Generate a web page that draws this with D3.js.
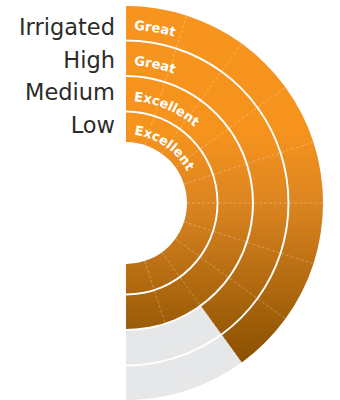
<!DOCTYPE html>
<html>
<head>
<meta charset="utf-8">
<script src="https://cdn.jsdelivr.net/npm/d3@7"></script>
<style>
  body { margin: 0; background: #fff; }
  svg { display: block; }
</style>
</head>
<body>
<script>
var categories = ["Irrigated", "High", "Medium", "Low"];
var ratings = ["Great", "Great", "Excellent", "Excellent"];
var scores = [8, 8, 10, 10];
var maxScore = 10;

var width = 340, height = 400;
var cx = 126, cy = 203;
var outerR = 197, holeR = 61;

var svg = d3.select("body").append("svg")
    .attr("width", width)
    .attr("height", height);

var defs = svg.append("defs");

// gradient from orange (top) to brown (bottom), in ring-centred coords
var grad = defs.append("linearGradient")
    .attr("id", "fillGrad")
    .attr("gradientUnits", "userSpaceOnUse")
    .attr("x1", 0).attr("x2", 0)
    .attr("y1", -outerR).attr("y2", outerR * 0.81);
grad.append("stop").attr("offset", 0).attr("stop-color", "#F7941D");
grad.append("stop").attr("offset", 0.35).attr("stop-color", "#F6931D");
grad.append("stop").attr("offset", 0.55).attr("stop-color", "#DC8521");
grad.append("stop").attr("offset", 1).attr("stop-color", "#8A5000");

// rings, Low is innermost
var r = d3.scaleBand()
    .domain(categories.slice().reverse())
    .range([57, outerR])
    .paddingInner(0.056);

var angle = d3.scaleLinear().domain([0, maxScore]).range([0, Math.PI]);

var data = categories.map(function(c, i) {
    return {name: c, rating: ratings[i], score: scores[i]};
});
data.forEach(function(d) {
    d.inner = Math.max(r(d.name), holeR);
    d.outer = r(d.name) + r.bandwidth();
});

var g = svg.append("g")
    .attr("transform", "translate(" + cx + "," + cy + ")");

var arc = d3.arc()
    .innerRadius(function(d) { return d.inner; })
    .outerRadius(function(d) { return d.outer; })
    .startAngle(0);

// grey track
g.selectAll(".track")
    .data(data)
  .enter().append("path")
    .attr("class", "track")
    .attr("fill", "#E6E7E8")
    .attr("d", function(d) { return arc.endAngle(Math.PI)(d); });

// value arcs
g.selectAll(".bar")
    .data(data)
  .enter().append("path")
    .attr("class", "bar")
    .attr("fill", "url(#fillGrad)")
    .attr("d", function(d) { return arc.endAngle(angle(d.score))(d); });

// segment dividers
var ticks = d3.range(1, maxScore);
var lines = [];
data.forEach(function(d) {
    ticks.forEach(function(t) { lines.push({ring: d, t: t}); });
});

g.append("g")
  .selectAll("line")
    .data(lines)
  .enter().append("line")
    .attr("x1", function(d) { return Math.sin(angle(d.t)) * d.ring.inner; })
    .attr("y1", function(d) { return -Math.cos(angle(d.t)) * d.ring.inner; })
    .attr("x2", function(d) { return Math.sin(angle(d.t)) * d.ring.outer; })
    .attr("y2", function(d) { return -Math.cos(angle(d.t)) * d.ring.outer; })
    .attr("stroke", "rgba(255,255,255,0.35)")
    .attr("stroke-width", 0.8)
    .attr("stroke-dasharray", "3,2");

// text paths along each ring
data.forEach(function(d, i) {
    var rb = (d.inner + d.outer) / 2 - 7;
    defs.append("path")
        .attr("id", "tp" + i)
        .attr("d", "M" + cx + "," + (cy - rb) +
              " A" + rb + "," + rb + " 0 0 1 " + cx + "," + (cy + rb));
});

svg.selectAll(".rating")
    .data(data)
  .enter().append("text")
    .attr("class", "rating")
    .attr("fill", "#fff")
    .style("font-family", "DejaVu Sans")
    .style("font-weight", "bold")
    .style("font-size", "13px")
  .append("textPath")
    .attr("href", function(d, i) { return "#tp" + i; })
    .attr("startOffset", 8)
    .text(function(d) { return d.rating; });

// category labels on the left
var ly = d3.scalePoint()
    .domain(categories)
    .range([35, 133]);

svg.selectAll(".label")
    .data(categories)
  .enter().append("text")
    .attr("class", "label")
    .attr("x", 115)
    .attr("y", function(d) { return ly(d); })
    .attr("text-anchor", "end")
    .attr("fill", "#2b2b2b")
    .style("font-family", "DejaVu Sans")
    .style("font-size", "22.5px")
    .text(function(d) { return d; });
</script>
</body>
</html>
